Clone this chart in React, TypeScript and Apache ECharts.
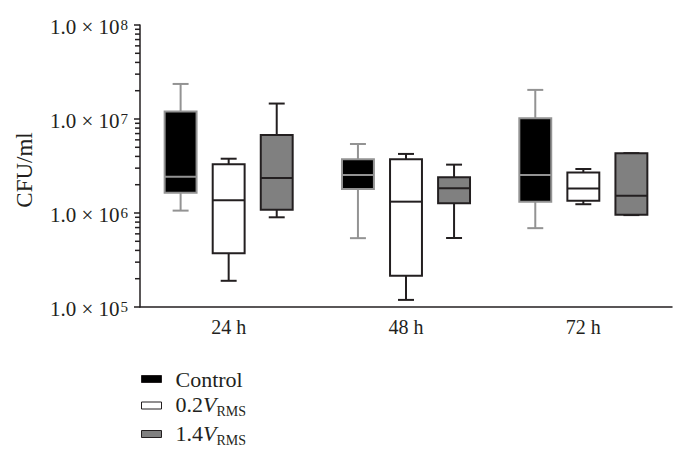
import React, { useEffect, useRef } from "react";
import * as echarts from "echarts";

const categories = ["24 h", "48 h", "72 h"];
const seriesNames = ["Control", "0.2VRMS", "1.4VRMS"];
// [min, Q1, median, Q3, max] per category
const controlValues = [
  [1.06e6, 1.64e6, 2.43e6, 1.2e7, 2.36e7],
  [5.4e5, 1.8e6, 2.53e6, 3.73e6, 5.42e6],
  [6.9e5, 1.32e6, 2.53e6, 1.02e7, 2.04e7],
];
const lowVoltageValues = [
  [1.9e5, 3.72e5, 1.37e6, 3.3e6, 3.78e6],
  [1.19e5, 2.15e5, 1.32e6, 3.73e6, 4.25e6],
  [1.24e6, 1.35e6, 1.82e6, 2.69e6, 2.94e6],
];
const highVoltageValues = [
  [9.0e5, 1.08e6, 2.36e6, 6.77e6, 1.46e7],
  [5.42e5, 1.27e6, 1.83e6, 2.4e6, 3.27e6],
  [9.5e5, 9.6e5, 1.53e6, 4.31e6, 4.33e6],
];
const yTickExponents = [5, 6, 7, 8];
const yMinorTicks = [
  2e5, 3e5, 4e5, 5e5, 6e5, 7e5, 8e5, 9e5,
  2e6, 3e6, 4e6, 5e6, 6e6, 7e6, 8e6, 9e6,
  2e7, 3e7, 4e7, 5e7, 6e7, 7e7, 8e7, 9e7,
];

const allValues = [controlValues, lowVoltageValues, highVoltageValues];
const boxStyles = [
  { fill: "#000000", stroke: "#939393" },
  { fill: "#ffffff", stroke: "#231f20" },
  { fill: "#808080", stroke: "#231f20" },
];
const FONT = "'Liberation Serif', 'DejaVu Serif', serif";
const INK = "#231f20";

export default function App() {
  const ref = useRef<HTMLDivElement>(null);
  useEffect(() => {
    if (!ref.current) return;
    const chart = echarts.init(ref.current, null, { renderer: "svg" });
    const offsets = [-0.271, 0, 0.271];
    const boxSeries = allValues.map((vals, si) => ({
      name: seriesNames[si],
      type: "custom",
      clip: false,
      data: vals.map((v, ci) => [ci, ...v]),
      encode: { x: 0, y: [1, 2, 3, 4, 5] },
      itemStyle: { color: boxStyles[si].fill, borderColor: boxStyles[si].stroke },
      renderItem: (params: any, api: any) => {
        const ci = api.value(0);
        const band = api.size([1, 0])[0];
        const base = api.coord([ci, api.value(3)]);
        const cx = base[0] + offsets[si] * band;
        const y = [1, 2, 3, 4, 5].map((d) => api.coord([ci, api.value(d)])[1]);
        const bw = band * 0.18;
        const cw = bw * 0.5;
        const st = boxStyles[si];
        const ls = { stroke: st.stroke, lineWidth: 2 };
        return {
          type: "group",
          children: [
            { type: "line", shape: { x1: cx, y1: y[4], x2: cx, y2: y[3] }, style: ls },
            { type: "line", shape: { x1: cx, y1: y[1], x2: cx, y2: y[0] }, style: ls },
            { type: "line", shape: { x1: cx - cw / 2, y1: y[4], x2: cx + cw / 2, y2: y[4] }, style: ls },
            { type: "line", shape: { x1: cx - cw / 2, y1: y[0], x2: cx + cw / 2, y2: y[0] }, style: ls },
            {
              type: "rect",
              shape: { x: cx - bw / 2, y: y[3], width: bw, height: y[1] - y[3] },
              style: { fill: st.fill, stroke: st.stroke, lineWidth: 2 },
            },
            { type: "line", shape: { x1: cx - bw / 2, y1: y[2], x2: cx + bw / 2, y2: y[2] }, style: ls },
          ],
        };
      },
    }));

    const minorTickSeries = {
      name: "minorTicks",
      type: "custom",
      clip: false,
      silent: true,
      z: 5,
      data: yMinorTicks.map((v) => [0, v]),
      encode: { x: 0, y: 1 },
      renderItem: (params: any, api: any) => {
        const pt = api.coord([0, api.value(1)]);
        const x = params.coordSys.x;
        return {
          type: "line",
          shape: { x1: x - 5, y1: pt[1], x2: x, y2: pt[1] },
          style: { stroke: INK, lineWidth: 1.5 },
        };
      },
    };

    chart.setOption({
      animation: false,
      textStyle: { fontFamily: FONT, color: INK },
      grid: { left: 140, right: 14, top: 25, bottom: 157 },
      xAxis: {
        type: "category",
        data: categories,
        axisLine: { lineStyle: { color: INK, width: 1.5 } },
        axisTick: { alignWithLabel: true, length: 5, lineStyle: { color: INK, width: 1.5 } },
        axisLabel: { fontSize: 20, fontFamily: FONT, color: INK, margin: 10 },
      },
      yAxis: {
        type: "log",
        logBase: 10,
        min: 1e5,
        max: 1e8,
        name: "CFU/ml",
        nameLocation: "middle",
        nameGap: 104,
        nameTextStyle: { fontSize: 23, fontFamily: FONT, color: INK, padding: [0, 8, 0, 0] },
        axisLine: { show: true, lineStyle: { color: INK, width: 1.5 } },
        axisTick: { show: true, length: 6, lineStyle: { color: INK, width: 1.5 } },
        splitLine: { show: false },
        axisLabel: {
          margin: 12,
          formatter: (v: number) => {
            const e = Math.round(Math.log10(v));
            return yTickExponents.includes(e) ? `{a|1.0 × 10}{e|${e}}` : "";
          },
          rich: {
            a: { fontSize: 21, fontFamily: FONT, color: INK, lineHeight: 24, padding: [5, 0, 0, 0], verticalAlign: "bottom" },
            e: { fontSize: 15, fontFamily: FONT, color: INK, lineHeight: 15, padding: [4.5, 0, 0, 1], verticalAlign: "top" },
          },
        },
      },
      legend: {
        orient: "vertical",
        left: 141,
        top: 368,
        padding: 0,
        itemWidth: 20,
        itemHeight: 7,
        itemGap: 3.5,
        selectedMode: false,
        data: seriesNames.map((n, i) => ({
          name: n,
          icon: "rect",
          itemStyle: { color: boxStyles[i].fill, borderColor: INK, borderWidth: 1 },
        })),
        formatter: (name: string) => {
          if (name === "Control") return "{c|Control}";
          const num = name.replace("VRMS", "");
          return `{n|${num}}{v|V}{s|RMS}`;
        },
        textStyle: {
          fontFamily: FONT,
          fontSize: 22,
          color: INK,
          padding: [0, 0, 0, 9],
          rich: {
            c: { fontSize: 22, fontFamily: FONT, color: INK, lineHeight: 25 },
            n: { fontSize: 22, fontFamily: FONT, color: INK, lineHeight: 24, verticalAlign: "top" },
            v: { fontSize: 22, fontFamily: FONT, fontStyle: "italic", color: INK, lineHeight: 24, verticalAlign: "top" },
            s: { fontSize: 14, fontFamily: FONT, color: INK, lineHeight: 14, padding: [11, 0, 0, 0], verticalAlign: "top" },
          },
        },
      },
      series: [minorTickSeries, ...boxSeries],
    } as any);
    return () => chart.dispose();
  }, []);
  return (
    <div
      ref={ref}
      style={{ position: "fixed", left: 0, top: 0, width: 686, height: 464, background: "#fff" }}
    />
  );
}
